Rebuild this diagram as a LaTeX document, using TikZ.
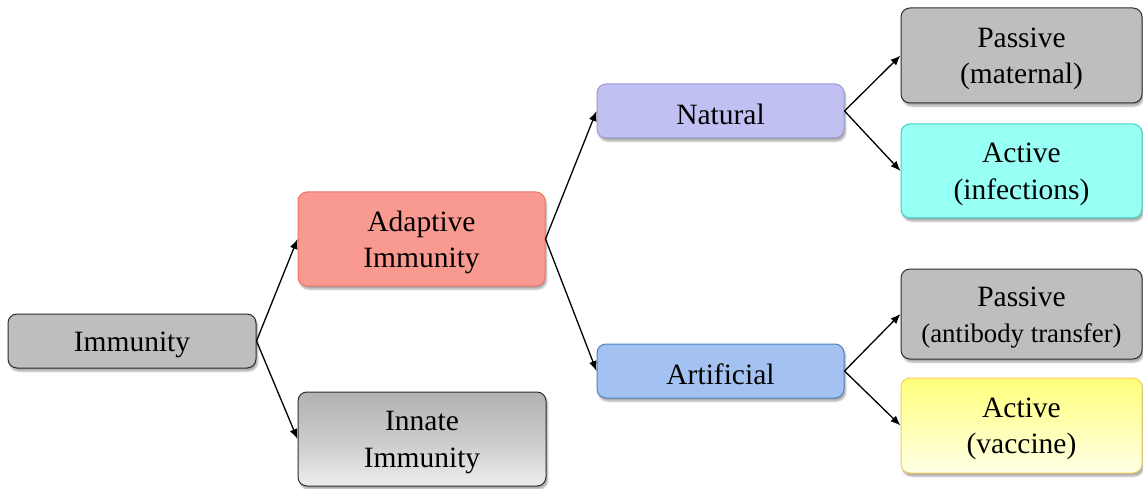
\documentclass[tikz,border=0pt]{standalone}
\usepackage{fontspec}
\setmainfont{Liberation Serif}
\usetikzlibrary{arrows.meta,shadows.blur}

\definecolor{greyfill}{HTML}{BEBEBE}
\definecolor{greyline}{HTML}{2E2E2E}
\definecolor{salmonfill}{HTML}{F99A90}
\definecolor{salmonline}{HTML}{EC7468}
\definecolor{lavfill}{HTML}{C0C0F2}
\definecolor{lavline}{HTML}{9A9AD0}
\definecolor{bluefill}{HTML}{A3C2F2}
\definecolor{blueline}{HTML}{4F80C0}
\definecolor{cyanfill}{HTML}{98FFF4}
\definecolor{cyanline}{HTML}{3FD2C2}
\definecolor{yellowtop}{HTML}{FFFF7A}
\definecolor{yellowbot}{HTML}{FFFFE6}
\definecolor{yellowline}{HTML}{F0CF5A}

\tikzset{
  box/.style={rounded corners=9pt, line width=1pt, inner sep=0pt,
    blur shadow={shadow xshift=1.5pt, shadow yshift=-3pt, shadow opacity=35, shadow blur steps=6}},
  greybox/.style={box, fill=greyfill, draw=greyline},
  caption/.style={align=center, text=black, inner sep=0pt,
    font=\fontsize{29.5}{36.5}\selectfont},
  link/.style={line width=1.3pt, -{Latex[length=10pt,width=8pt]}},
}

% box from corner (x1,y1) to (x2,y2), caption set slightly below its centre
\newcommand{\boxat}[7]{% name, x1, y1, x2, y2, style, text
  \node[#6, minimum width=#4pt-#2pt, minimum height=#5pt-#3pt] (#1) at ({(#2+#4)/2}, {(#3+#5)/2}) {};
  \node[caption] (#1-text) at ([yshift=-3.5pt]#1.center) {#7};}

\begin{document}
\begin{tikzpicture}[x=1pt, y=-1pt]
  \useasboundingbox (0,0) rectangle (1143,489);

  % root
  \boxat{imm}{8}{314}{256}{368}{greybox}{Immunity}

  % second level
  \boxat{adapt}{298}{192}{545}{286}{box, fill=salmonfill, draw=salmonline}{Adaptive\\Immunity}
  \boxat{innate}{298}{392}{546}{486}{box, draw=greyline, top color=gray!60, bottom color=gray!14, middle color=gray!42}{Innate\\Immunity}

  % third level
  \boxat{nat}{597}{84}{844}{138}{box, fill=lavfill, draw=lavline}{Natural}
  \boxat{art}{597}{344}{844}{398}{box, fill=bluefill, draw=blueline}{Artificial}

  % leaves
  \boxat{pasmat}{901}{8}{1142}{103}{greybox}{Passive\\(maternal)}
  \boxat{actinf}{901}{124}{1142}{218}{box, fill=cyanfill, draw=cyanline}{Active\\(infections)}
  \boxat{pasab}{901}{269}{1142}{359}{greybox}{Passive\\{\fontsize{26.8}{36}\selectfont(antibody transfer)}}
  \boxat{actvac}{901}{378}{1142}{473}{box, draw=yellowline, top color=yellowtop, bottom color=yellowbot}{Active\\(vaccine)}

  % connectors
  \draw[link] (imm.east) -- (adapt.west);
  \draw[link] (imm.east) -- (innate.west);
  \draw[link] (adapt.east) -- (nat.west);
  \draw[link] (adapt.east) -- (art.west);
  \draw[link] (nat.east) -- (pasmat.west);
  \draw[link] (nat.east) -- (actinf.west);
  \draw[link] (art.east) -- (pasab.west);
  \draw[link] (art.east) -- (actvac.west);
\end{tikzpicture}
\end{document}
